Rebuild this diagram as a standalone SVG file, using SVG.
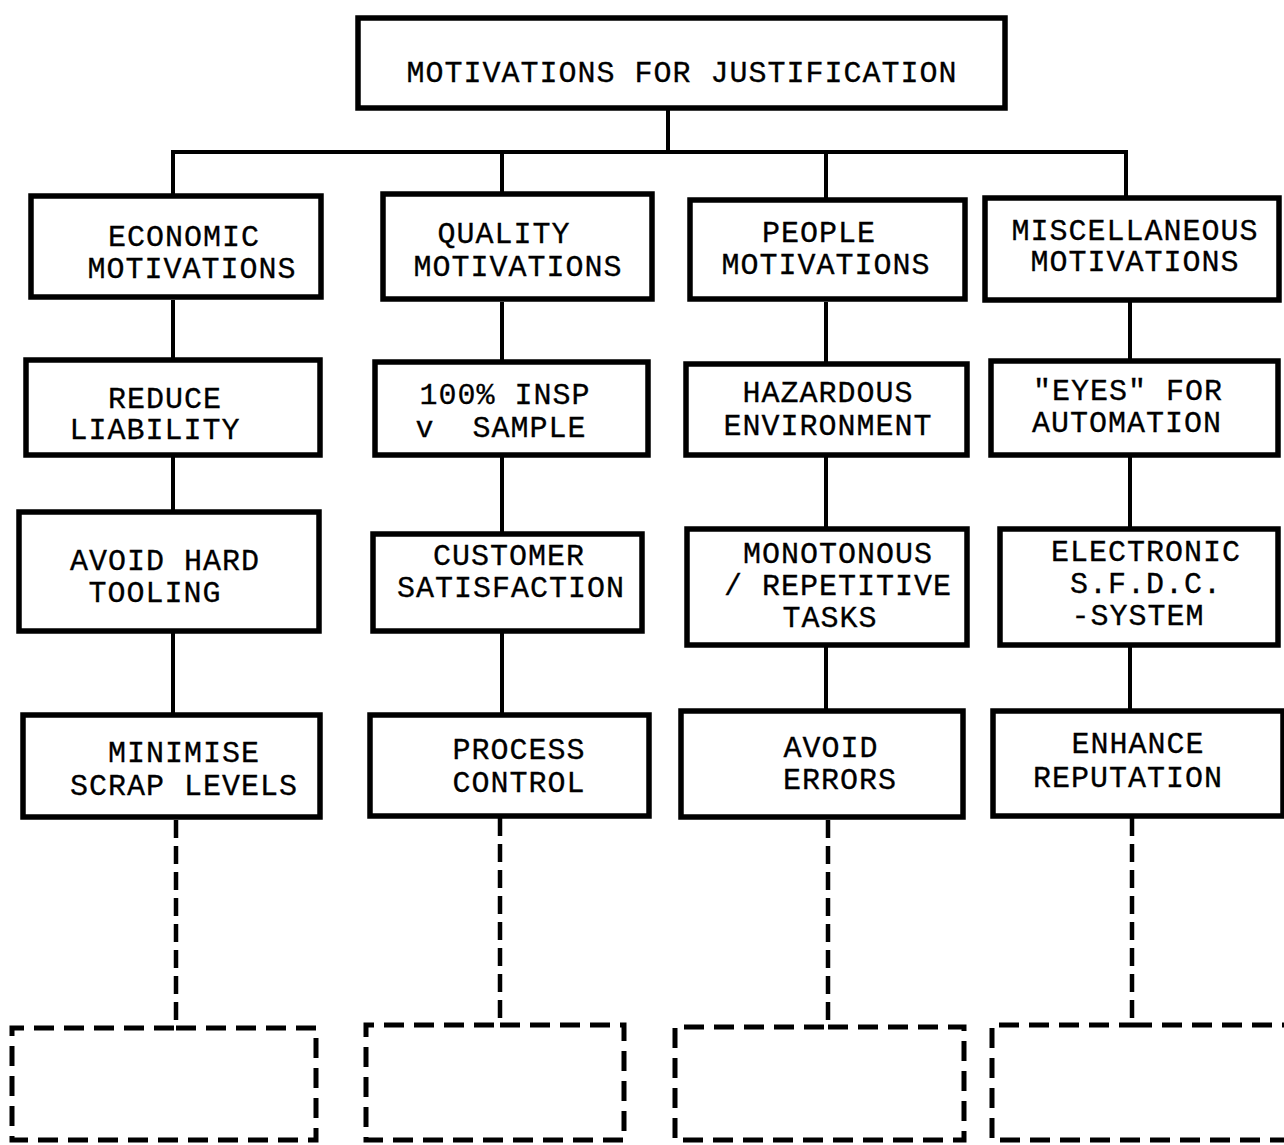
<svg xmlns="http://www.w3.org/2000/svg" width="1284" height="1145" viewBox="0 0 1284 1145">
  <style>
    .box { fill: #fff; stroke: #000; stroke-width: 5.5; stroke-linejoin: miter; }
    .open { fill: none; stroke: #000; stroke-width: 5; stroke-dasharray: 20 10; stroke-linecap: butt; }
    .wire { fill: none; stroke: #000; stroke-width: 4; }
    .dash { fill: none; stroke: #000; stroke-width: 4.5; stroke-dasharray: 18 8; }
    text { font-family: "Liberation Mono", "DejaVu Sans Mono", monospace; font-size: 30px; letter-spacing: 1px; fill: #000; stroke: #000; stroke-width: 0.3; text-anchor: middle; }
  </style>

  <!-- tree connectors -->
  <g id="connectors">
    <path class="wire" d="M668 110 V152 M171 152 H1128 M173 152 V194 M502 152 V192 M826 152 V198 M1126 152 V196"/>
    <path class="wire" d="M173 300 V358 M173 456 V511 M173 633 V713"/>
    <path class="wire" d="M502 302 V361 M502 457 V533 M502 633 V713"/>
    <path class="wire" d="M826 302 V363 M826 457 V528 M826 647 V709"/>
    <path class="wire" d="M1130 302 V359 M1130 457 V528 M1130 647 V709"/>
    <path class="dash" d="M176 820 V1028"/>
    <path class="dash" d="M500 818 V1025"/>
    <path class="dash" d="M828 820 V1027"/>
    <path class="dash" d="M1132 818 V1025"/>
  </g>

  <!-- root -->
  <g id="root">
    <rect class="box" x="358" y="18" width="647" height="90"/>
    <text x="682" y="82">MOTIVATIONS FOR JUSTIFICATION</text>
  </g>

  <!-- column 1: economic -->
  <g id="economic">
    <rect class="box" x="31" y="196" width="290" height="101"/>
    <text x="184" y="246">ECONOMIC</text>
    <text x="192" y="278">MOTIVATIONS</text>
  </g>
  <g id="reduce-liability">
    <rect class="box" x="26" y="360" width="294" height="95"/>
    <text x="165" y="408">REDUCE</text>
    <text x="155" y="439">LIABILITY</text>
  </g>
  <g id="avoid-hard-tooling">
    <rect class="box" x="19" y="512" width="300" height="119"/>
    <text x="165" y="570">AVOID HARD</text>
    <text x="155" y="602">TOOLING</text>
  </g>
  <g id="minimise-scrap">
    <rect class="box" x="23" y="715" width="297" height="102"/>
    <text x="184" y="762">MINIMISE</text>
    <text x="184" y="795">SCRAP LEVELS</text>
  </g>
  <g id="open-1">
    <path class="open" d="M176 1028 H316 V1140 H12 V1028 H176"/>
  </g>

  <!-- column 2: quality -->
  <g id="quality">
    <rect class="box" x="383" y="194" width="269" height="105"/>
    <text x="504" y="243">QUALITY</text>
    <text x="518" y="276">MOTIVATIONS</text>
  </g>
  <g id="inspection">
    <rect class="box" x="375" y="362" width="273" height="93"/>
    <text x="505" y="404">100% INSP</text>
    <text x="501" y="437" xml:space="preserve">v  SAMPLE</text>
  </g>
  <g id="customer-satisfaction">
    <rect class="box" x="373" y="534" width="269" height="97"/>
    <text x="509" y="565">CUSTOMER</text>
    <text x="511" y="597">SATISFACTION</text>
  </g>
  <g id="process-control">
    <rect class="box" x="370" y="715" width="279" height="101"/>
    <text x="519" y="759">PROCESS</text>
    <text x="519" y="792">CONTROL</text>
  </g>
  <g id="open-2">
    <path class="open" d="M500 1025 H624 V1140 H366 V1025 H500"/>
  </g>

  <!-- column 3: people -->
  <g id="people">
    <rect class="box" x="690" y="200" width="275" height="99"/>
    <text x="819" y="242">PEOPLE</text>
    <text x="826" y="274">MOTIVATIONS</text>
  </g>
  <g id="hazardous">
    <rect class="box" x="686" y="364" width="281" height="91"/>
    <text x="828" y="402">HAZARDOUS</text>
    <text x="828" y="435">ENVIRONMENT</text>
  </g>
  <g id="monotonous">
    <rect class="box" x="687" y="529" width="280" height="116"/>
    <text x="838" y="563">MONOTONOUS</text>
    <text x="838" y="595">/ REPETITIVE</text>
    <text x="830" y="627">TASKS</text>
  </g>
  <g id="avoid-errors">
    <rect class="box" x="681" y="711" width="282" height="106"/>
    <text x="831" y="757">AVOID</text>
    <text x="840" y="789">ERRORS</text>
  </g>
  <g id="open-3">
    <path class="open" d="M828 1027 H964 V1140 H675 V1027 H828"/>
  </g>

  <!-- column 4: miscellaneous -->
  <g id="miscellaneous">
    <rect class="box" x="985" y="198" width="294" height="102"/>
    <text x="1135" y="240">MISCELLANEOUS</text>
    <text x="1135" y="271">MOTIVATIONS</text>
  </g>
  <g id="eyes-automation">
    <rect class="box" x="991" y="361" width="287" height="94"/>
    <text x="1128" y="400">"EYES" FOR</text>
    <text x="1127" y="432">AUTOMATION</text>
  </g>
  <g id="electronic-sfdc">
    <rect class="box" x="1000" y="529" width="278" height="116"/>
    <text x="1146" y="561">ELECTRONIC</text>
    <text x="1146" y="593">S.F.D.C.</text>
    <text x="1138" y="625">-SYSTEM</text>
  </g>
  <g id="enhance-reputation">
    <rect class="box" x="993" y="711" width="290" height="105"/>
    <text x="1138" y="753">ENHANCE</text>
    <text x="1128" y="787">REPUTATION</text>
  </g>
  <g id="open-4">
    <path class="open" d="M1132 1025 H1290 M1290 1140 H992 V1025 H1132"/>
  </g>
</svg>
